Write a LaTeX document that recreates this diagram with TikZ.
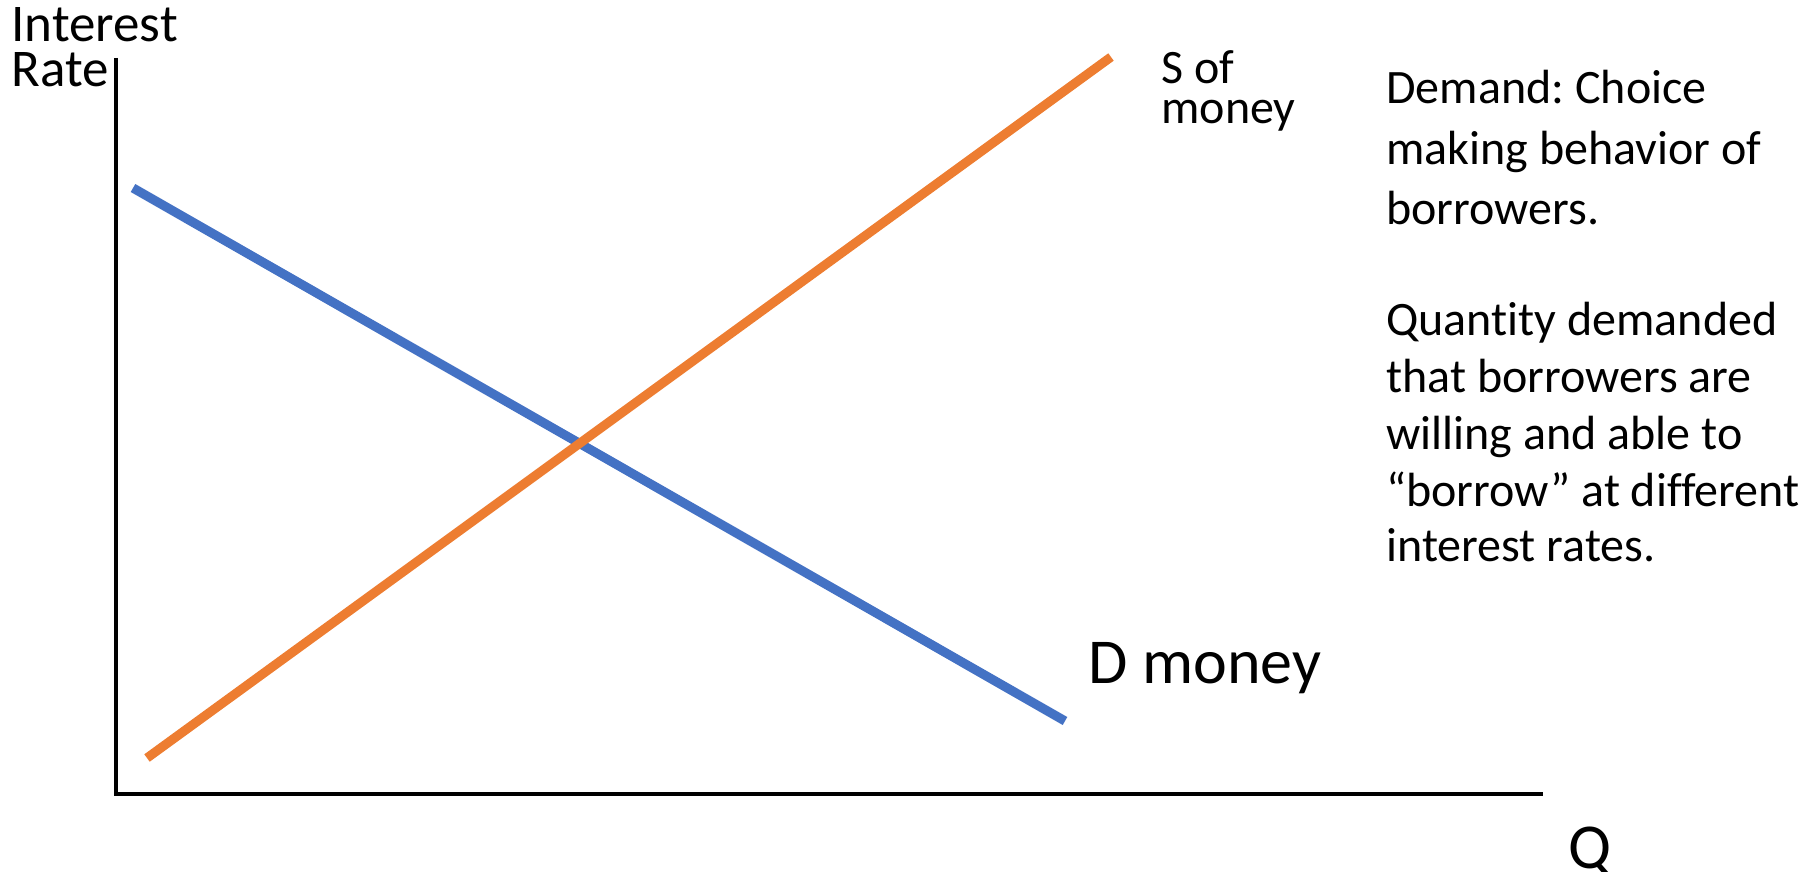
\documentclass[tikz,border=0pt]{standalone}
\usepackage{fontspec}
\setmainfont[Ligatures={NoCommon}]{Carlito}
\frenchspacing
\definecolor{dblue}{HTML}{4472C4}
\definecolor{sorange}{HTML}{ED7D31}
\tikzset{
  axisline/.style={line width=1.6pt, black},
  curve/.style={line width=4.6pt},
  lbl/.style={anchor=base west, inner sep=0pt, font=\fontsize{24}{29}\selectfont},
  tightlbl/.style={anchor=base west, inner sep=0pt, align=left},
  biglbl/.style={anchor=base west, inner sep=0pt, font=\fontsize{32}{38}\selectfont}
}
\begin{document}
\begin{tikzpicture}[x=0.5pt,y=-0.5pt]
\useasboundingbox (0,0) rectangle (1815,872);
% axes
\coordinate (ytop) at (116,58);
\coordinate (orig) at (116,794);
\coordinate (xend) at (1543,794);
\draw[axisline] (ytop) -- (orig) -- (xend);
% demand and supply
\coordinate (d1) at (133,188);
\coordinate (d2) at (1065,721);
\coordinate (s1) at (147,758);
\coordinate (s2) at (1111,57);
\draw[curve, dblue] (d1) -- (d2);
\draw[curve, sorange] (s1) -- (s2);
% labels (base anchor = baseline of last line)
\node[tightlbl, font=\fontsize{26.5}{22.5}\selectfont] (yl) at (11,87) {Interest\\Rate};
\node[tightlbl, font=\fontsize{24}{20.5}\selectfont] (sl) at (1161,124) {S of\\money};
\node[biglbl] (dl) at (1088,683) {D money};
\node[biglbl] (ql) at (1568,868) {Q};
\node[lbl] (t1) at (1386,104) {Demand: Choice};
\node[lbl] (t2) at (1386,164) {making behavior of};
\node[lbl] (t3) at (1386,224) {borrowers.};
\node[lbl] (t4) at (1386,335) {Quantity demanded};
\node[lbl] (t5) at (1386,392) {that borrowers are};
\node[lbl] (t6) at (1386,449) {willing and able to};
\node[lbl] (t7) at (1386,506) {“borrow” at different};
\node[lbl] (t8) at (1386,561) {interest rates.};
\end{tikzpicture}
\end{document}
